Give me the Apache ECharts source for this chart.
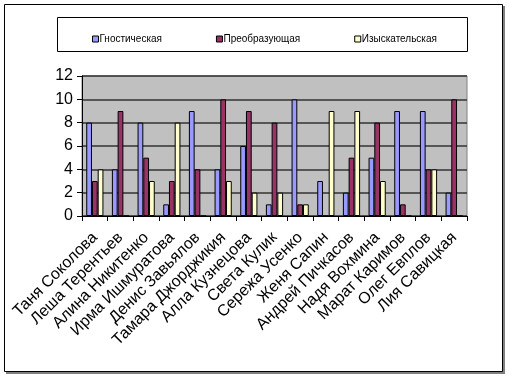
<!DOCTYPE html>
<html><head><meta charset="utf-8">
<script src="https://cdn.jsdelivr.net/npm/echarts@6/dist/echarts.min.js"></script>
<style>html,body{margin:0;padding:0;background:#fff}#c{width:510px;height:378px}</style>
</head><body><div id="c"></div>
<script>
const categories = ['Таня Соколова','Леша Терентьев','Алина Никитенко','Ирма Ишмуратова','Денис Завьялов','Тамара Джорджикия','Алла Кузнецова','Света Кулик','Сережа Усенко','Женя Сапин','Андрей Пичкасов','Надя Вохмина','Марат Каримов','Олег Евплов','Лия Савицкая'];
const gnostic = [8,4,8,1,9,4,6,1,10,3,2,5,9,9,2];
const transform = [3,9,5,3,4,10,9,8,1,0,5,8,1,4,10];
const search = [4,0,3,8,0,3,2,2,1,9,9,3,0,4,0];
const seriesNames = ['Гностическая','Преобразующая','Изыскательская'];
const yTicks = [0,2,4,6,8,10,12];

const chart = echarts.init(document.getElementById('c'), null, {renderer:'canvas'});
const colors = ['#9999FF','#993366','#FFFFCC'];
const mk = (name, data, i) => ({
  name, type:'bar', data, barGap:'0%', barCategoryGap:'33%',
  itemStyle:{color:colors[i], borderColor:'#000', borderWidth:1},
  emphasis:{disabled:true}
});
chart.setOption({
  animation:false,
  graphic:[
    {type:'rect', shape:{x:6,y:6,width:499,height:368}, style:{fill:'#808080'}, z:-10},
    {type:'rect', shape:{x:4.5,y:4.5,width:498,height:367}, style:{fill:'#fff', stroke:'#000', lineWidth:1}, z:-9},
    {type:'rect', shape:{x:57.5,y:17.5,width:410,height:34}, style:{fill:'#fff', stroke:'#000', lineWidth:1}, z:-8}
  ],
  legend:{
    data:seriesNames, top:29, left:87, itemWidth:6, itemHeight:6, itemGap:54,
    icon:'rect',
    textStyle:{fontFamily:'Liberation Sans', fontSize:10, color:'#000', padding:[0,0,0,-4]},
    itemStyle:{borderColor:'#000', borderWidth:1}
  },
  grid:{left:82, top:76, width:385, height:140, show:true, backgroundColor:'#C0C0C0', borderColor:'#808080', borderWidth:1},
  xAxis:{
    type:'category', data:categories,
    axisLine:{lineStyle:{color:'#000', width:1}},
    axisTick:{show:true, inside:false, length:5, lineStyle:{color:'#000'}},
    axisLabel:{rotate:45, interval:0, margin:19, fontFamily:'Liberation Sans', fontSize:16, color:'#000'}
  },
  yAxis:{
    type:'value', min:0, max:12, interval:2,
    axisLine:{show:true, lineStyle:{color:'#000', width:1}},
    axisTick:{show:true, length:5, lineStyle:{color:'#000'}},
    axisLabel:{margin:9, fontFamily:'Liberation Sans', fontSize:16, color:'#000',
      formatter:v=>yTicks.includes(v)?String(v):''},
    splitLine:{show:true, lineStyle:{color:'#333', width:1.5}}
  },
  series:[mk(seriesNames[0],gnostic,0), mk(seriesNames[1],transform,1), mk(seriesNames[2],search,2)]
});
</script></body></html>
